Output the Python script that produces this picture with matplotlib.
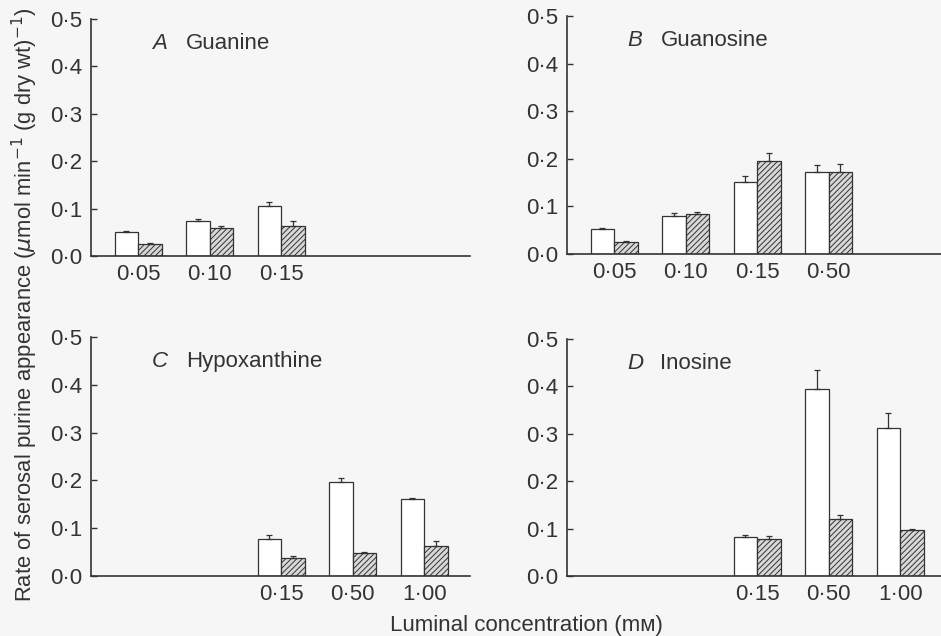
import numpy as np
import matplotlib
matplotlib.use('Agg')
import matplotlib.pyplot as plt

plt.rcParams['font.family'] = ['Liberation Sans', 'DejaVu Sans']
plt.rcParams['hatch.color'] = '#333333'
plt.rcParams['hatch.linewidth'] = 0.7

# data; slot = position along the x axis (0..4)
a_slots = [0, 1, 2]
a_labels = ['0·05', '0·10', '0·15']
a_white = [0.050, 0.073, 0.105]
a_white_err = [0.003, 0.005, 0.008]
a_hatch = [0.026, 0.060, 0.064]
a_hatch_err = [0.002, 0.004, 0.009]

b_slots = [0, 1, 2, 3]
b_labels = ['0·05', '0·10', '0·15', '0·50']
b_white = [0.053, 0.080, 0.151, 0.173]
b_white_err = [0.002, 0.006, 0.012, 0.013]
b_hatch = [0.025, 0.083, 0.195, 0.173]
b_hatch_err = [0.002, 0.006, 0.018, 0.016]

c_slots = [2, 3, 4]
c_labels = ['0·15', '0·50', '1·00']
c_white = [0.078, 0.197, 0.161]
c_white_err = [0.008, 0.008, 0.002]
c_hatch = [0.037, 0.048, 0.063]
c_hatch_err = [0.004, 0.002, 0.010]

d_slots = [2, 3, 4]
d_labels = ['0·15', '0·50', '1·00']
d_white = [0.083, 0.394, 0.313]
d_white_err = [0.003, 0.040, 0.031]
d_hatch = [0.079, 0.121, 0.096]
d_hatch_err = [0.006, 0.008, 0.003]

panels = [
    ('A', 'Guanine', a_slots, a_labels, a_white, a_white_err, a_hatch, a_hatch_err),
    ('B', 'Guanosine', b_slots, b_labels, b_white, b_white_err, b_hatch, b_hatch_err),
    ('C', 'Hypoxanthine', c_slots, c_labels, c_white, c_white_err, c_hatch, c_hatch_err),
    ('D', 'Inosine', d_slots, d_labels, d_white, d_white_err, d_hatch, d_hatch_err),
]

W, H = 941, 636
bg = '#f6f6f6'
ink = '#333333'
fs = 16
fig = plt.figure(figsize=(W / 100, H / 100), dpi=100, facecolor=bg)

# axes boxes in pixels: left, right, top, bottom
boxes = [(91, 470, 19, 256), (567, 941, 16, 254),
         (91, 470, 337, 576), (567, 941, 339, 576)]

bw = 0.33
err_style = dict(ecolor=ink, elinewidth=0.9, capsize=2.5, capthick=0.9)
for (letter, name, slots, labels, white, werr, hatch, herr), (l, r, t, b) in zip(panels, boxes):
    ax = fig.add_axes([l / W, 1 - b / H, (r - l) / W, (b - t) / H])
    ax.set_facecolor(bg)
    x = np.array(slots, dtype=float)
    ax.bar(x - bw / 2, white, bw, color='white', edgecolor=ink, linewidth=0.9,
           yerr=[np.zeros(len(werr)), werr], error_kw=err_style)
    ax.bar(x + bw / 2, hatch, bw, color='#d8d8d8', edgecolor=ink, linewidth=0.9, hatch='//////',
           yerr=[np.zeros(len(herr)), herr], error_kw=err_style)
    ax.set_xlim(-0.66, (r - l) / 71.5 - 0.66)
    ax.set_ylim(0, 0.5)
    yt = np.arange(0, 0.51, 0.1)
    ax.set_yticks(yt)
    ax.set_yticklabels([f'{v:.1f}'.replace('.', '·') for v in yt])
    ax.set_xticks(x)
    ax.set_xticklabels(labels)
    ax.tick_params(axis='y', direction='in', length=4, width=1, color=ink, labelsize=fs, labelcolor=ink, pad=6)
    ax.tick_params(axis='x', length=0, labelsize=fs, labelcolor=ink, pad=6)
    for s in ['top', 'right']:
        ax.spines[s].set_visible(False)
    for s in ['left', 'bottom']:
        ax.spines[s].set_color(ink)
        ax.spines[s].set_linewidth(1.2)
    # panel titles: x in axes fraction, y in data units
    ax.text(0.16, 0.437, letter, transform=ax.get_yaxis_transform(), fontsize=fs, style='italic', color=ink)
    ax.text(0.25, 0.437, name, transform=ax.get_yaxis_transform(), fontsize=fs, color=ink)

fig.text(25 / W, 1 - 305 / H, 'Rate of serosal purine appearance ($\\mu$mol min$^{-1}$ (g dry wt)$^{-1}$)',
         rotation=90, ha='center', va='center', fontsize=15.8, color=ink)
fig.text(526 / W, 1 - 626 / H, 'Luminal concentration (mᴍ)', ha='center', va='center', fontsize=fs, color=ink)

plt.savefig('out.png', dpi=100, facecolor=bg)
